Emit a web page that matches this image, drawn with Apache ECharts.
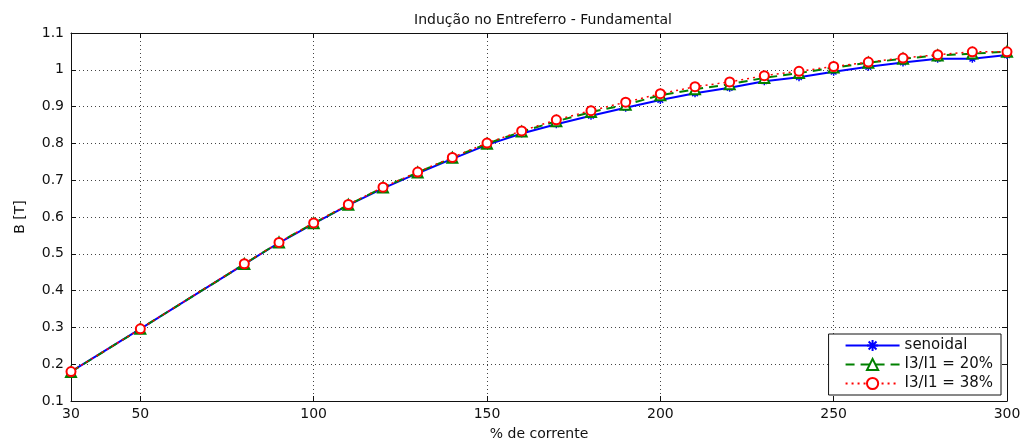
<!DOCTYPE html>
<html>
<head>
<meta charset="utf-8">
<script src="https://cdn.jsdelivr.net/npm/echarts@6/dist/echarts.min.js"></script>
<style>html,body{margin:0;padding:0;background:#fff}#c{width:1026px;height:441px}</style>
</head>
<body>
<div id="c"></div>
<script>
const current = [30,50,80,90,100,110,120,130,140,150,160,170,180,190,200,210,220,230,240,250,260,270,280,290,300];
const senoidal = [0.180,0.296,0.472,0.530,0.582,0.632,0.678,0.719,0.758,0.796,0.827,0.852,0.875,0.897,0.918,0.936,0.951,0.969,0.980,0.995,1.008,1.020,1.030,1.030,1.040];
const i3_20 = [0.179,0.296,0.472,0.531,0.583,0.633,0.680,0.721,0.761,0.799,0.832,0.860,0.885,0.905,0.931,0.947,0.961,0.978,0.991,1.006,1.019,1.030,1.039,1.044,1.049];
const i3_38 = [0.180,0.296,0.473,0.531,0.584,0.634,0.681,0.722,0.762,0.801,0.834,0.864,0.889,0.912,0.935,0.954,0.967,0.984,0.996,1.009,1.021,1.032,1.041,1.049,1.049];
const xTicks = [30,50,100,150,200,250,300];
const seriesNames = ['senoidal','I3/I1 = 20%','I3/I1 = 38%'];
const titleText = 'Indução no Entreferro - Fundamental';
const xName = '% de corrente';
const yName = 'B [T]';

const font = 'DejaVu Sans, sans-serif';
const pair = a => current.map((x,i)=>[x,a[i]]);
const gridDot = {show:true, lineStyle:{color:'#444', type:[1,3], width:1}};
const chart = echarts.init(document.getElementById('c'));
const starPath = 'path://M0,-10L0,10M-10,0L10,0M-7,-7L7,7M-7,7L7,-7';
chart.setOption({
  animation:false,
  backgroundColor:'#fff',
  title:{text:titleText, left:538, top:8, textAlign:'center',
    textStyle:{fontFamily:font, fontSize:14, fontWeight:'normal', color:'#111'}},
  grid:{left:71, right:19, top:33, bottom:40, containLabel:false, outerBoundsMode:'none'},
  legend:{
    orient:'vertical', right:25, bottom:46,
    backgroundColor:'#fff', borderColor:'#111', borderWidth:1, borderRadius:0,
    padding:[4,8,4,16], itemGap:4, itemWidth:54, itemHeight:14,
    textStyle:{fontFamily:font, fontSize:15, color:'#111'},
    data:seriesNames
  },
  xAxis:[{
    type:'value', min:30, max:300,
    name:xName, nameLocation:'middle', nameGap:26,
    nameTextStyle:{fontFamily:font, fontSize:14, color:'#111'},
    axisLine:{show:true, onZero:false, lineStyle:{color:'#111', width:1}},
    axisTick:{show:true, inside:true, length:5, customValues:xTicks, lineStyle:{color:'#111'}},
    axisLabel:{customValues:xTicks, fontFamily:font, fontSize:14, color:'#111', margin:6},
    splitLine:gridDot
  },{
    type:'value', min:30, max:300, position:'top',
    axisLine:{show:true, onZero:false, lineStyle:{color:'#111', width:1}},
    axisTick:{show:true, inside:true, length:5, customValues:xTicks, lineStyle:{color:'#111'}},
    axisLabel:{show:false}, splitLine:{show:false}
  }],
  yAxis:[{
    type:'value', min:0.1, max:1.1, interval:0.1,
    name:yName, nameLocation:'middle', nameGap:44, nameRotate:90,
    nameTextStyle:{fontFamily:font, fontSize:14, color:'#111'},
    axisLine:{show:true, onZero:false, lineStyle:{color:'#111', width:1}},
    axisTick:{show:true, inside:true, length:5, lineStyle:{color:'#111'}},
    axisLabel:{fontFamily:font, fontSize:14, color:'#111', margin:7,
      formatter:v=>String(Math.round(v*10)/10)},
    splitLine:gridDot
  },{
    type:'value', min:0.1, max:1.1, interval:0.1, position:'right',
    axisLine:{show:true, onZero:false, lineStyle:{color:'#111', width:1}},
    axisTick:{show:true, inside:true, length:5, lineStyle:{color:'#111'}},
    axisLabel:{show:false}, splitLine:{show:false}
  }],
  series:[{
    name:seriesNames[0], type:'line', data:pair(senoidal),
    symbol:starPath, symbolSize:8, showAllSymbol:true,
    lineStyle:{color:'#0000ff', width:2, type:'solid'},
    itemStyle:{color:'#0000ff', borderColor:'#0000ff', borderWidth:1.5}
  },{
    name:seriesNames[1], type:'line', data:pair(i3_20),
    symbol:'triangle', symbolSize:10, showAllSymbol:true,
    lineStyle:{color:'#008000', width:2, type:[9,6]},
    itemStyle:{color:'#fff', borderColor:'#008000', borderWidth:2}
  },{
    name:seriesNames[2], type:'line', data:pair(i3_38),
    symbol:'circle', symbolSize:9, showAllSymbol:true,
    lineStyle:{color:'#ff0000', width:1.5, type:[2,4]},
    itemStyle:{color:'#fff', borderColor:'#ff0000', borderWidth:2}
  }]
});
</script>
</body>
</html>
